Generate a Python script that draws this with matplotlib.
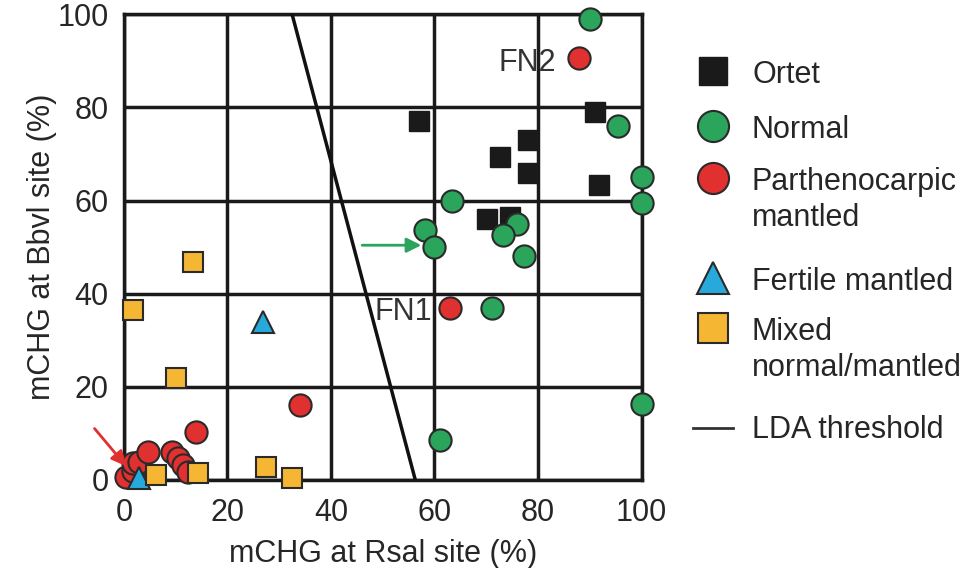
import numpy as np
import matplotlib
matplotlib.use('Agg')
import matplotlib.pyplot as plt

plt.rcParams['font.family'] = ['Liberation Sans', 'DejaVu Sans']

# data (x = mCHG at Rsal, y = mCHG at Bbvl)
ortet_x = [57, 91, 78, 72.7, 78, 91.7, 74.5, 70.2]
ortet_y = [77, 79, 73, 69.3, 66, 63.3, 56.5, 56]
normal_x = [90, 95.4, 100, 100, 63.4, 58.2, 60, 76, 73.3, 77.2, 71.2, 61, 100]
normal_y = [99, 76, 65, 59.5, 60, 53.6, 50, 55, 52.6, 48, 37, 8.6, 16.3]
parth_x = [88, 63, 34, 14, 0.5, 1.8, 1.8, 3, 4.7, 9.3, 10.5, 11.5, 12.4]
parth_y = [90.7, 37, 16, 10.3, 0.7, 2, 3.6, 3.8, 6, 6, 4.7, 3.2, 1.8]
fertile_x = [26.9, 3]
fertile_y = [34, 0.5]
mixed_x = [13.4, 1.8, 10, 6.2, 14.3, 27.5, 32.5]
mixed_y = [46.8, 36.5, 21.9, 1, 1.5, 2.7, 0.4]
lda_x = [32.5, 56.3]
lda_y = [100, 0]

ticks = [0, 20, 40, 60, 80, 100]
fs = 22
txt = '#262626'

fig = plt.figure(figsize=(9.75, 5.68), dpi=100)
ax = fig.add_axes([0.127, 0.155, 0.531, 0.82])

edge = '#2a2a2a'
styles = {
    'ortet': dict(marker='s', ms=14.5, color='#1a1a1a', mec='#1a1a1a', mew=1),
    'normal': dict(marker='o', ms=16, color='#2ba55b', mec=edge, mew=1.5),
    'parth': dict(marker='o', ms=16, color='#e0302f', mec=edge, mew=1.5),
    'fertile': dict(marker='^', ms=16, color='#27a9dc', mec=edge, mew=1.5),
    'mixed': dict(marker='s', ms=15, color='#f4b633', mec=edge, mew=1.5),
}

ax.plot(lda_x, lda_y, color='#111111', lw=2.5, zorder=3)
ax.plot(ortet_x, ortet_y, ls='none', zorder=4, clip_on=False, **styles['ortet'])
ax.plot(normal_x, normal_y, ls='none', zorder=5, clip_on=False, **styles['normal'])
ax.plot(parth_x, parth_y, ls='none', zorder=5, clip_on=False, **styles['parth'])
ax.plot(fertile_x, fertile_y, ls='none', zorder=6, clip_on=False, **styles['fertile'])
ax.plot(mixed_x, mixed_y, ls='none', zorder=6, clip_on=False, **styles['mixed'])

ax.text(78, 89.5, 'FN2', fontsize=fs, color='#333333', ha='center', va='center', zorder=2)
ax.text(54, 36, 'FN1', fontsize=fs, color='#333333', ha='center', va='center', zorder=2)

ax.annotate('', xy=(58, 50.4), xytext=(45.5, 50.4),
            arrowprops=dict(arrowstyle='-|>', color='#2ba55b', lw=2, mutation_scale=22), zorder=7)
ax.annotate('', xy=(0.8, 2.5), xytext=(-6, 11.5), annotation_clip=False,
            arrowprops=dict(arrowstyle='-|>', color='#e0302f', lw=2, mutation_scale=22), zorder=7)

ax.set_xlim(0, 100)
ax.set_ylim(0, 100)
ax.set_xticks(ticks)
ax.set_yticks(ticks)
ax.tick_params(length=0, labelsize=fs, labelcolor=txt)
ax.tick_params(axis='x', pad=13)
ax.tick_params(axis='y', pad=11)
ax.grid(True, color='#1a1a1a', lw=2.5)
ax.set_axisbelow(True)
for s in ax.spines.values():
    s.set_linewidth(2.5)
    s.set_color('#1a1a1a')
ax.set_xlabel('mCHG at Rsal site (%)', fontsize=fs, labelpad=8, color=txt)
ax.set_ylabel('mCHG at Bbvl site (%)', fontsize=fs, labelpad=0, color=txt)

# legend drawn by hand so markers sit on the first text line
lax = fig.add_axes([0, 0, 1, 1])
lax.set_xlim(0, 975)
lax.set_ylim(568, 0)
lax.axis('off')
entries = [
    ('ortet', 'Ortet', 73),
    ('normal', 'Normal', 128),
    ('parth', 'Parthenocarpic\nmantled', 180),
    ('fertile', 'Fertile mantled', 280),
    ('mixed', 'Mixed\nnormal/mantled', 330),
]
for key, label, yy in entries:
    st = dict(styles[key])
    st['ms'] = st['ms'] * 1.4
    lax.plot([713], [yy - 2], ls='none', **st)
    lax.text(752, yy - 13, label, fontsize=fs, color=txt, va='top',
             ha='left', linespacing=1.25)
lax.plot([693, 733], [428, 428], color='#333333', lw=2)
lax.text(752, 430, 'LDA threshold', fontsize=fs, color=txt, va='center', ha='left')

fig.savefig('out.png', dpi=100)
